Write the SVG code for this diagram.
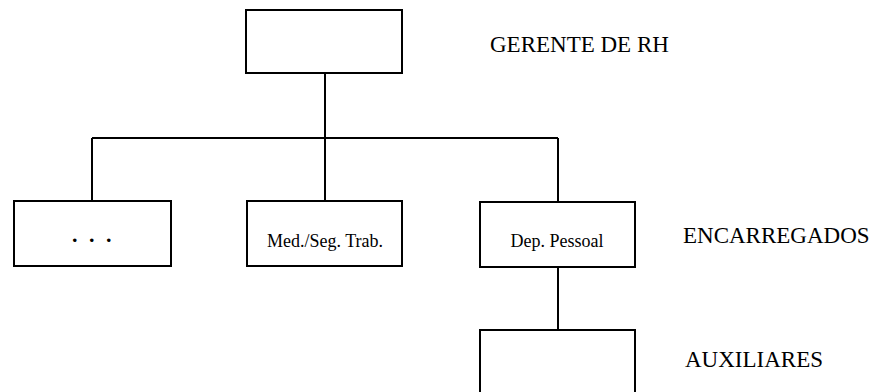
<svg xmlns="http://www.w3.org/2000/svg" width="874" height="392" viewBox="0 0 874 392">
<style>
.box{fill:#fff;stroke:#000;stroke-width:2}
.ln{fill:none;stroke:#000;stroke-width:2}
.lbl{font-family:"Liberation Serif","Times New Roman",serif;font-size:23px;fill:#000}
.in{font-family:"Liberation Serif","Times New Roman",serif;font-size:18px;fill:#000;text-anchor:middle}
</style>
<rect width="874" height="392" fill="#fff"/>
<g id="connectors">
<path class="ln" d="M325 73 V201"/>
<path class="ln" d="M92 138 H558"/>
<path class="ln" d="M92 138 V201"/>
<path class="ln" d="M558 138 V202"/>
<path class="ln" d="M558 267 V330"/>
</g>
<g id="gerente"><rect class="box" x="246" y="10" width="156" height="63"/></g>
<g id="outros"><rect class="box" x="14" y="201" width="157" height="65"/>
<text style="font-family:'Liberation Serif',serif;font-size:22px;font-weight:bold" x="72 89 106" y="242">...</text></g>
<g id="medseg"><rect class="box" x="247" y="201" width="155" height="65"/>
<text class="in" x="325" y="247">Med./Seg. Trab.</text></g>
<g id="deppessoal"><rect class="box" x="480" y="202" width="155" height="65"/>
<text class="in" x="557" y="247">Dep. Pessoal</text></g>
<g id="auxiliar"><rect class="box" x="480" y="330" width="155" height="80"/></g>
<g id="levels">
<text class="lbl" x="490" y="52">GERENTE DE RH</text>
<text class="lbl" x="683" y="243">ENCARREGADOS</text>
<text class="lbl" x="685" y="367">AUXILIARES</text>
</g>
</svg>
